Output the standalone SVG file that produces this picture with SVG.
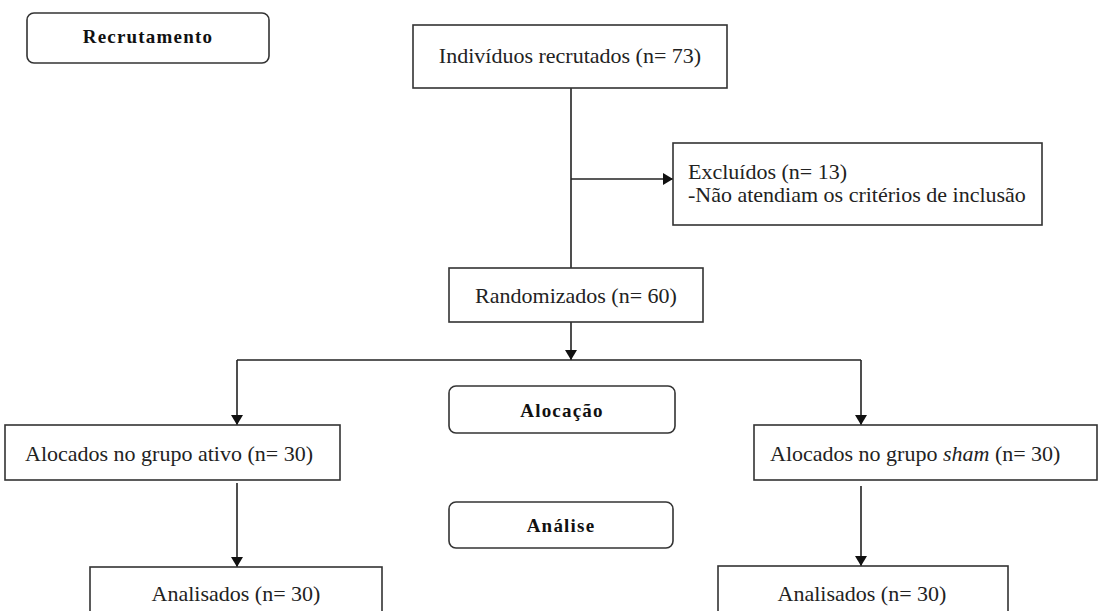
<svg xmlns="http://www.w3.org/2000/svg" width="1099" height="611" viewBox="0 0 1099 611">
<defs>
<marker id="arr" markerWidth="10" markerHeight="12" refX="10" refY="6" orient="auto" markerUnits="userSpaceOnUse">
<path d="M0,0 L10,6 L0,12 Z" fill="#111"/>
</marker>
<style>
.box{fill:#fff;stroke:#333;stroke-width:1.6}
.t{font-family:'Liberation Serif','DejaVu Serif','Noto Serif','Times New Roman',Times,serif;font-size:22px;fill:#222}
.b{font-family:'Liberation Serif','DejaVu Serif','Noto Serif','Times New Roman',Times,serif;font-size:19px;font-weight:bold;fill:#111;letter-spacing:1.2px}
.c{stroke:#222;stroke-width:1.6;fill:none}
</style>
</defs>
<rect width="1099" height="611" fill="#fff"/>
<g id="connectors">
<line class="c" x1="571" y1="88" x2="571" y2="268"/>
<line class="c" x1="571" y1="179" x2="673" y2="179" marker-end="url(#arr)"/>
<line class="c" x1="571" y1="322" x2="571" y2="360" marker-end="url(#arr)"/>
<line class="c" x1="237" y1="360" x2="861" y2="360"/>
<line class="c" x1="237" y1="360" x2="237" y2="425" marker-end="url(#arr)"/>
<line class="c" x1="861" y1="360" x2="861" y2="425" marker-end="url(#arr)"/>
<line class="c" x1="237" y1="483" x2="237" y2="567" marker-end="url(#arr)"/>
<line class="c" x1="861" y1="486" x2="861" y2="566" marker-end="url(#arr)"/>
</g>
<g id="recrutamento">
<rect class="box" x="27" y="13" width="242" height="50" rx="7"/>
<text class="b" x="148" y="43" text-anchor="middle">Recrutamento</text>
</g>
<g id="recrutados">
<rect class="box" x="413" y="25" width="314" height="63"/>
<text class="t" x="570" y="63" text-anchor="middle">Indivíduos recrutados (n= 73)</text>
</g>
<g id="excluidos">
<rect class="box" x="673" y="143" width="369" height="82"/>
<text class="t" x="688" y="179">Excluídos  (n= 13)</text>
<text class="t" x="688" y="202">-Não atendiam os critérios de inclusão</text>
</g>
<g id="randomizados">
<rect class="box" x="449" y="268" width="254" height="54"/>
<text class="t" x="576" y="303" text-anchor="middle">Randomizados (n= 60)</text>
</g>
<g id="alocacao">
<rect class="box" x="449" y="386" width="226" height="47" rx="7"/>
<text class="b" x="562" y="417" text-anchor="middle">Alocação</text>
</g>
<g id="analise">
<rect class="box" x="449" y="502" width="224" height="46" rx="7"/>
<text class="b" x="561" y="532" text-anchor="middle">Análise</text>
</g>
<g id="ativo">
<rect class="box" x="5" y="425" width="335" height="55"/>
<text class="t" x="25" y="461">Alocados no grupo ativo (n= 30)</text>
</g>
<g id="sham">
<rect class="box" x="754" y="425" width="343" height="55"/>
<text class="t" x="770" y="461">Alocados no grupo <tspan font-style="italic">sham</tspan> (n= 30)</text>
</g>
<g id="analisados-ativo">
<rect class="box" x="90" y="567" width="292" height="60"/>
<text class="t" x="236" y="601" text-anchor="middle">Analisados  (n= 30)</text>
</g>
<g id="analisados-sham">
<rect class="box" x="718" y="566" width="290" height="60"/>
<text class="t" x="862" y="601" text-anchor="middle">Analisados  (n= 30)</text>
</g>
</svg>
